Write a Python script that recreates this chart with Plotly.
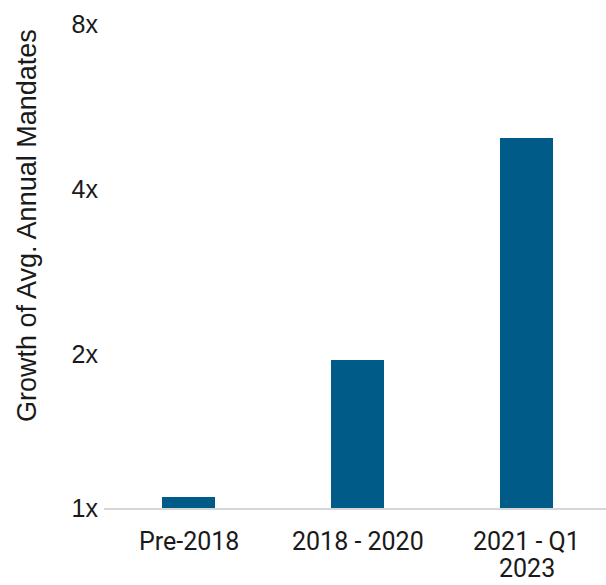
import math
import plotly.graph_objects as go

# Growth multiples of average annual mandates by period
periods = ["Pre-2018", "2018 - 2020", "2021 - Q1<br>2023"]
growth = [1.10, 1.95, 4.95]

# Log-scale axis: bottom of the axis sits just above 1x
y_min = 1.05
y_max = 8
tick_vals = [y_min, 2, 4, 8]
tick_text = ["1x", "2x", "4x", "8x"]

bar_color = "#015B88"

fig = go.Figure(
    go.Bar(
        x=periods,
        y=growth,
        width=0.313,
        marker=dict(color=bar_color, line=dict(width=0)),
        hoverinfo="skip",
    )
)

W, H = 606, 585
L, R, T, B = 104, 0, 24, 77
plot_w = W - L - R
plot_h = H - T - B

fig.update_layout(
    width=W,
    height=H,
    margin=dict(l=L, r=R, t=T, b=B, pad=0),
    paper_bgcolor="white",
    plot_bgcolor="white",
    showlegend=False,
    bargap=0,
)

fig.update_xaxes(
    range=[-0.5, 2.47],
    showgrid=False,
    zeroline=False,
    showline=True,
    linecolor="#d6d6d6",
    linewidth=2,
    ticks="",
    showticklabels=False,
)

# Category labels, one text line per row with tight line spacing
line_gap = 27
for period in periods:
    for i, line in enumerate(period.split("<br>")):
        fig.add_annotation(
            text=line,
            x=period,
            xref="x",
            yref="paper",
            y=-(33 + i * line_gap) / plot_h,
            xanchor="center",
            yanchor="middle",
            showarrow=False,
            font=dict(family="Roboto", size=25, color="#1a1a1a"),
        )

fig.update_yaxes(
    type="log",
    range=[math.log10(y_min), math.log10(y_max)],
    tickvals=tick_vals,
    ticktext=tick_text,
    showgrid=False,
    zeroline=False,
    showline=False,
    ticks="",
    tickfont=dict(family="Liberation Sans", size=25, color="#1a1a1a"),
    ticklabelstandoff=5,
)

# Vertical axis title
fig.add_annotation(
    text="Growth of Avg. Annual Mandates",
    xref="paper",
    yref="paper",
    x=(27 - L) / plot_w,
    y=(H - B - 226) / plot_h,
    xanchor="center",
    yanchor="middle",
    textangle=-90,
    showarrow=False,
    font=dict(family="Liberation Sans", size=27, color="#1a1a1a"),
)

fig.write_html("out.html")
